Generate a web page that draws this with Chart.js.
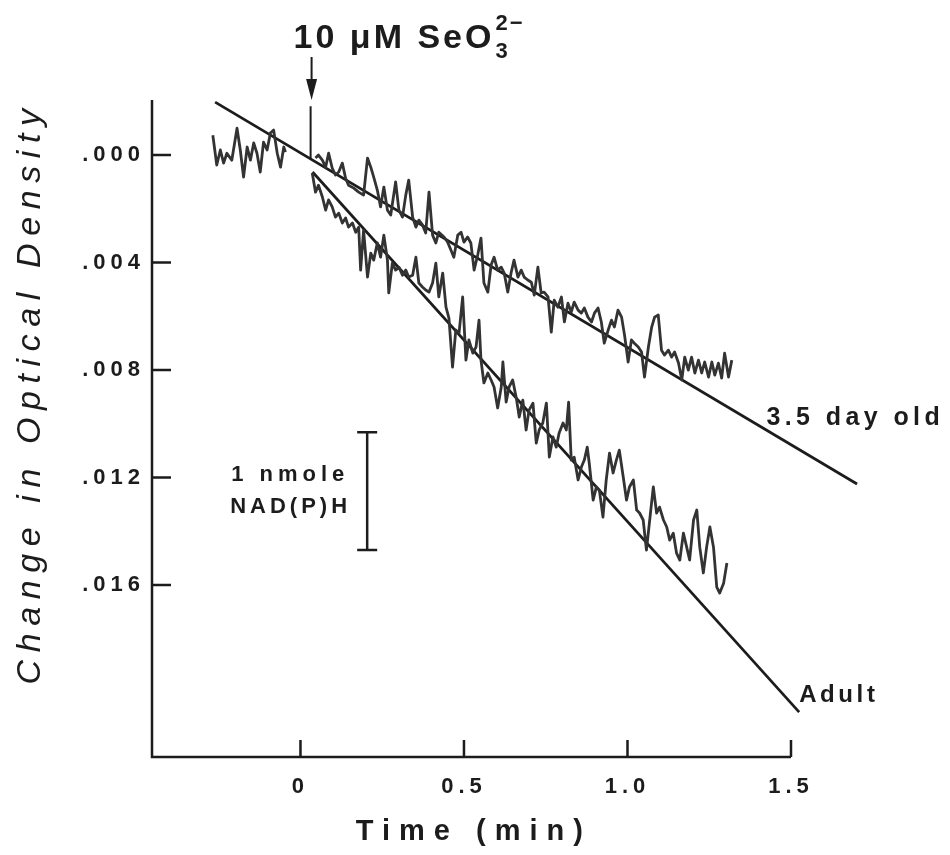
<!DOCTYPE html>
<html>
<head>
<meta charset="utf-8">
<script src="https://cdn.jsdelivr.net/npm/chart.js@4.4.1/dist/chart.umd.min.js"></script>
<style>
  html, body { margin: 0; background: #fff; }
</style>
</head>
<body>
<canvas id="chart" width="950" height="855"></canvas>
<script>
// axis ticks
const xTicks = [0, 0.5, 1.0, 1.5];
const yTicks = [0, 0.004, 0.008, 0.012, 0.016];

// baseline before selenite addition
const preTime = [-0.268, -0.256, -0.245, -0.235, -0.225, -0.210, -0.194, -0.184, -0.174, -0.163, -0.153,
  -0.143, -0.133, -0.123, -0.113, -0.102, -0.092, -0.082, -0.071, -0.061, -0.051, -0.046];
const preOD = [-0.00074, 0.00037, -0.00019, 0.00030, -0.00007, 0.00019, -0.00100, -0.00019, 0.00082, -0.00030, 0.00019,
  -0.00045, -0.00007, 0.00063, -0.00048, -0.00019, -0.00082, -0.00093, -0.00007, 0.00045, -0.00030, -0.00011];

// 3.5 day old trace
const juvTime = [0.046, 0.055, 0.067, 0.077, 0.086, 0.097, 0.107, 0.117, 0.128, 0.138, 0.147, 0.163, 0.178, 0.193,
  0.205, 0.215, 0.224, 0.235, 0.245, 0.255, 0.266, 0.276, 0.291, 0.301, 0.312, 0.322, 0.331, 0.343, 0.353, 0.362,
  0.373, 0.383, 0.393, 0.404, 0.414, 0.423,
  0.439, 0.450, 0.460, 0.469, 0.481, 0.491, 0.500, 0.511, 0.521, 0.531, 0.542, 0.552, 0.561, 0.573, 0.583, 0.592,
  0.603, 0.614, 0.623, 0.634, 0.644, 0.653, 0.665, 0.675, 0.684, 0.695, 0.706, 0.715, 0.726, 0.736, 0.745, 0.757,
  0.767, 0.776, 0.787, 0.798, 0.807, 0.818, 0.828, 0.837, 0.849, 0.859, 0.868, 0.879, 0.890, 0.899, 0.910, 0.920,
  0.929, 0.941, 0.951, 0.960, 0.971, 0.982, 0.991, 1.002, 1.012, 1.021, 1.033, 1.043, 1.052, 1.064, 1.074, 1.083,
  1.094, 1.104, 1.113, 1.125, 1.135, 1.144, 1.156, 1.166, 1.175, 1.186, 1.196, 1.206, 1.217, 1.227, 1.236, 1.248,
  1.258, 1.267, 1.278, 1.288, 1.297, 1.309, 1.319];
const juvOD = [0.00011, 0.00000, 0.00019, 0.00045, -0.00007, 0.00048, 0.00074, 0.00063, 0.00030, 0.00086, 0.00112,
  0.00123, 0.00138, 0.00149, 0.00011, 0.00045, 0.00082, 0.00130, 0.00193, 0.00119, 0.00205, 0.00223, 0.00100,
  0.00205, 0.00231, 0.00149, 0.00093, 0.00231, 0.00268, 0.00242, 0.00260, 0.00290, 0.00138, 0.00298, 0.00327, 0.00287,
  0.00305, 0.00324, 0.00353, 0.00380, 0.00298, 0.00287, 0.00324, 0.00305, 0.00327, 0.00428, 0.00372, 0.00309,
  0.00476, 0.00510, 0.00409, 0.00380, 0.00428, 0.00417, 0.00439, 0.00510, 0.00439, 0.00391, 0.00454, 0.00428,
  0.00454, 0.00465, 0.00473, 0.00521, 0.00417, 0.00513, 0.00510, 0.00528, 0.00659, 0.00540, 0.00566, 0.00528,
  0.00621, 0.00551, 0.00584, 0.00547, 0.00577, 0.00588, 0.00569, 0.00603, 0.00621, 0.00588, 0.00569, 0.00621,
  0.00700, 0.00651, 0.00614, 0.00640, 0.00577, 0.00603, 0.00670, 0.00770, 0.00688, 0.00700, 0.00714, 0.00733,
  0.00826, 0.00714, 0.00640, 0.00603, 0.00595, 0.00726, 0.00744, 0.00726, 0.00752, 0.00733, 0.00774, 0.00837,
  0.00752, 0.00800, 0.00752, 0.00811, 0.00763, 0.00811, 0.00770, 0.00826, 0.00770, 0.00819, 0.00774, 0.00830,
  0.00737, 0.00826, 0.00763];

// adult trace
const adultTime = [0.036, 0.046, 0.055, 0.067, 0.077, 0.086, 0.097, 0.107, 0.117, 0.128, 0.138, 0.147, 0.159, 0.169,
  0.178, 0.184, 0.193, 0.205, 0.215, 0.224, 0.235, 0.245, 0.255, 0.266, 0.270, 0.281, 0.291, 0.301, 0.312, 0.322,
  0.331, 0.343, 0.353, 0.362, 0.373, 0.383, 0.393, 0.404, 0.414, 0.423, 0.435, 0.445, 0.454, 0.465, 0.475, 0.485,
  0.496, 0.506, 0.515, 0.527, 0.537, 0.546, 0.552, 0.561, 0.573, 0.583, 0.592, 0.603, 0.614, 0.619, 0.629, 0.638,
  0.649, 0.660, 0.669, 0.680, 0.690, 0.699, 0.711, 0.721, 0.730, 0.741, 0.752, 0.761, 0.772, 0.782, 0.791, 0.803,
  0.813, 0.820, 0.828, 0.837, 0.849, 0.859, 0.868, 0.877, 0.883, 0.895, 0.905, 0.914, 0.925, 0.935, 0.945, 0.956,
  0.966, 0.975, 0.987, 0.997, 1.006, 1.018, 1.028, 1.037, 1.048, 1.058, 1.067, 1.079, 1.089, 1.098, 1.110, 1.120,
  1.129, 1.140, 1.150, 1.160, 1.171, 1.181, 1.190, 1.202, 1.212, 1.221, 1.232, 1.242, 1.252, 1.263, 1.273, 1.282,
  1.294, 1.304];
const adultOD = [0.00067, 0.00138, 0.00112, 0.00156, 0.00205, 0.00167, 0.00193, 0.00231, 0.00216, 0.00253, 0.00234,
  0.00268, 0.00253, 0.00287, 0.00268, 0.00428, 0.00279, 0.00454, 0.00365, 0.00391, 0.00327, 0.00380, 0.00298,
  0.00391, 0.00513, 0.00402, 0.00428, 0.00417, 0.00447, 0.00428, 0.00454, 0.00447, 0.00380, 0.00476, 0.00491,
  0.00502, 0.00510, 0.00476, 0.00402, 0.00528, 0.00439, 0.00566, 0.00607, 0.00789, 0.00651, 0.00662, 0.00528,
  0.00763, 0.00688, 0.00737, 0.00714, 0.00614, 0.00763, 0.00848, 0.00811, 0.00837, 0.00863, 0.00941, 0.00863,
  0.00770, 0.00919, 0.00863, 0.00837, 0.00904, 0.00975, 0.00912, 0.01023, 0.00949, 0.00923, 0.01072, 0.01023,
  0.00997, 0.00923, 0.01124, 0.01049, 0.01087, 0.01034, 0.00997, 0.01023, 0.00919, 0.01135, 0.01124, 0.01209,
  0.01161, 0.01135, 0.01087, 0.01146, 0.01284, 0.01235, 0.01247, 0.01347, 0.01209, 0.01109, 0.01183, 0.01135,
  0.01098, 0.01198, 0.01284, 0.01235, 0.01209, 0.01321, 0.01332, 0.01358, 0.01470, 0.01369, 0.01235, 0.01332,
  0.01310, 0.01358, 0.01384, 0.01433, 0.01407, 0.01481, 0.01507, 0.01407, 0.01459, 0.01507, 0.01358, 0.01321,
  0.01459, 0.01555, 0.01459, 0.01384, 0.01459, 0.01608, 0.01630, 0.01593, 0.01518];

// fitted rate lines
const fitJuvTime = [-0.261, 1.702];
const fitJuvOD = [-0.00197, 0.01224];
const fitAdultTime = [0.037, 1.525];
const fitAdultOD = [0.00063, 0.02073];

// addition marker, arrow and 1 nmole NAD(P)H scale bar
const markerTime = [0.031, 0.031];
const markerOD = [-0.00182, 0.00012];
const arrowTime = [0.034, 0.034];
const arrowOD = [-0.00365, -0.00205];
const barTime = [0.204, 0.204];
const barOD = [0.01031, 0.0147];

const ink = '#1c1c1c';
const traceColor = '#333333';
const family = "'Liberation Sans', Arial, Helvetica, sans-serif";

const pts = (t, v) => t.map((x, i) => ({ x, y: v[i] }));

const trace = (t, v) => ({
  data: pts(t, v),
  borderColor: traceColor,
  borderWidth: 2.8,
  borderJoinStyle: 'round',
  pointRadius: 0,
  tension: 0,
});

const straight = (t, v, w) => ({
  data: pts(t, v),
  borderColor: ink,
  borderWidth: w,
  pointRadius: 0,
  tension: 0,
});

function label(ctx, str, px, py, size, o = {}) {
  ctx.save();
  ctx.font = `${o.style || 'bold'} ${size}px ${family}`;
  ctx.letterSpacing = (o.spacing ?? 4) + 'px';
  ctx.fillStyle = ink;
  ctx.textAlign = o.align || 'left';
  ctx.textBaseline = o.baseline || 'middle';
  ctx.fillText(str, px, py);
  const w = ctx.measureText(str).width;
  ctx.restore();
  return w;
}

const overlay = {
  id: 'overlay',
  beforeDraw(chart) {
    chart.ctx.letterSpacing = '5px';
  },
  afterDraw(chart) {
    const { ctx, chartArea: a, scales: { x, y } } = chart;
    const X = (v) => x.getPixelForValue(v);
    const Y = (v) => y.getPixelForValue(v);

    ctx.save();
    ctx.strokeStyle = ink;
    ctx.lineWidth = 2.5;
    // axes with inward ticks
    ctx.beginPath();
    ctx.moveTo(a.left, a.top);
    ctx.lineTo(a.left, a.bottom);
    ctx.lineTo(X(xTicks[xTicks.length - 1]), a.bottom);
    xTicks.forEach((v) => {
      ctx.moveTo(X(v), a.bottom);
      ctx.lineTo(X(v), a.bottom - 17);
    });
    yTicks.forEach((v) => {
      ctx.moveTo(a.left, Y(v));
      ctx.lineTo(a.left + 19, Y(v));
    });
    ctx.stroke();

    // arrow
    const ax = X(arrowTime[0]);
    const tip = Y(arrowOD[1]);
    ctx.lineWidth = 2;
    ctx.beginPath();
    ctx.moveTo(ax, Y(arrowOD[0]));
    ctx.lineTo(ax, tip - 15);
    ctx.stroke();
    ctx.fillStyle = ink;
    ctx.beginPath();
    ctx.moveTo(ax, tip);
    ctx.lineTo(ax - 5.5, tip - 21);
    ctx.lineTo(ax + 5.5, tip - 21);
    ctx.closePath();
    ctx.fill();
    ctx.restore();

    // title: 10 uM SeO3 2-
    const tx = X(-0.021);
    const ty = a.top - 52;
    const w = label(ctx, '10 μM SeO', tx, ty, 34, { spacing: 3, baseline: 'alphabetic' });
    label(ctx, '3', tx + w + 1, ty + 10, 22, { spacing: 2, baseline: 'alphabetic' });
    label(ctx, '2−', tx + w + 1, ty - 18, 22, { spacing: 2, baseline: 'alphabetic' });

    // series labels
    label(ctx, '3.5 day old', X(1.425), Y(0.00979), 25, { spacing: 4.4 });
    label(ctx, 'Adult', X(1.525), Y(0.02009), 24, { spacing: 3.6 });

    // scale bar text
    label(ctx, '1 nmole', X(-0.212), Y(0.01191), 22, { spacing: 5 });
    label(ctx, 'NAD(P)H', X(-0.215), Y(0.0131), 22, { spacing: 4 });

    // axis titles
    label(ctx, 'Time (min)', X(0.515) + 5, a.bottom + 75, 29, { spacing: 9, align: 'center' });
    ctx.save();
    ctx.translate(31, Y(0.009));
    ctx.rotate(-Math.PI / 2);
    label(ctx, 'Change in Optical Density', 4, 0, 34, { style: 'italic', spacing: 7.6, align: 'center' });
    ctx.restore();
  },
};

new Chart(document.getElementById('chart'), {
  type: 'line',
  data: {
    datasets: [
      trace(preTime, preOD),
      trace(juvTime, juvOD),
      trace(adultTime, adultOD),
      straight(fitJuvTime, fitJuvOD, 2.7),
      straight(fitAdultTime, fitAdultOD, 2.7),
      straight(markerTime, markerOD, 2),
      {
        data: pts(barTime, barOD),
        borderColor: ink,
        borderWidth: 2.5,
        pointStyle: 'line',
        pointRadius: 10,
        pointBorderWidth: 2.5,
        pointBorderColor: ink,
      },
    ],
  },
  options: {
    responsive: false,
    animation: false,
    events: [],
    layout: { padding: { top: 100, right: 5, left: 0, bottom: 0 } },
    scales: {
      x: {
        type: 'linear',
        min: -0.454,
        max: 1.948,
        grid: { display: false, drawTicks: false },
        border: { display: false },
        afterBuildTicks: (s) => { s.ticks = xTicks.map((value) => ({ value })); },
        afterFit: (s) => { s.height = 98; },
        ticks: {
          padding: 17,
          color: ink,
          font: { family, size: 22, weight: 'bold' },
          maxRotation: 0,
          callback: (v) => (v === 0 ? '0' : v.toFixed(1)),
        },
      },
      y: {
        type: 'linear',
        reverse: true,
        min: -0.00205,
        max: 0.0224,
        grid: { display: false, drawTicks: false },
        border: { display: false },
        afterBuildTicks: (s) => { s.ticks = yTicks.map((value) => ({ value })); },
        afterFit: (s) => { s.width = 152; },
        ticks: {
          padding: 7,
          color: ink,
          font: { family, size: 22, weight: 'bold' },
          callback: (v) => '.' + String(Math.round(v * 1000)).padStart(3, '0'),
        },
      },
    },
    plugins: {
      legend: { display: false },
      tooltip: { enabled: false },
    },
  },
  plugins: [overlay],
});
</script>
</body>
</html>
